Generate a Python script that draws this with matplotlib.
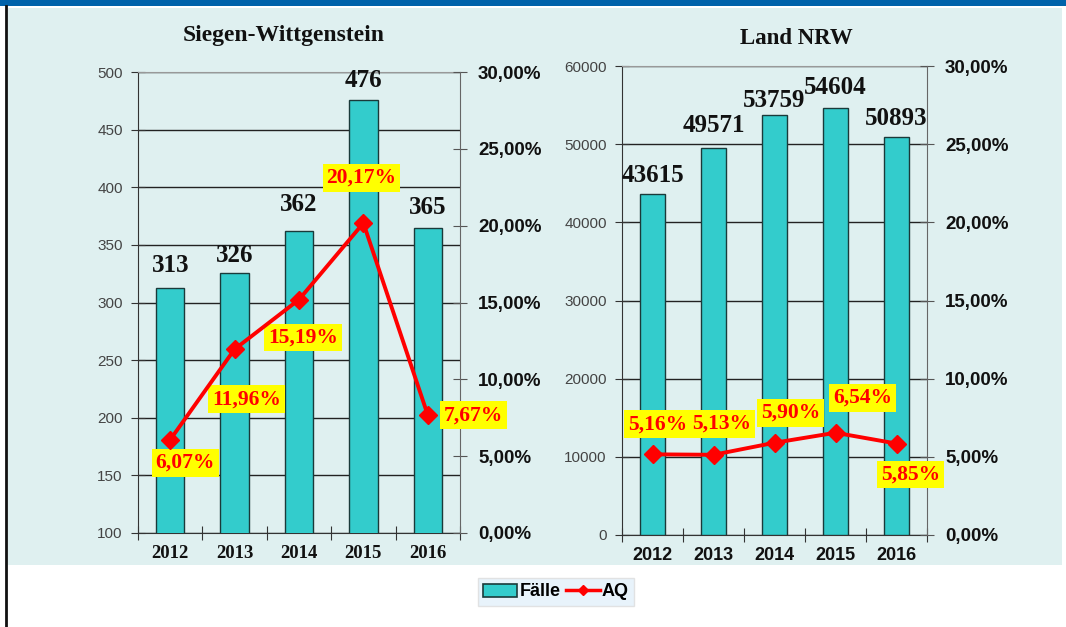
"""Fälle und AQ 2012-2016: Siegen-Wittgenstein und Land NRW."""

import matplotlib

matplotlib.use("Agg")
import matplotlib.pyplot as plt
from matplotlib.lines import Line2D
from matplotlib.patches import Patch, Rectangle
from matplotlib.ticker import FuncFormatter

years = ["2012", "2013", "2014", "2015", "2016"]

sw_faelle = [313, 326, 362, 476, 365]
sw_aq = [6.07, 11.96, 15.19, 20.17, 7.67]

nrw_faelle = [43615, 49571, 53759, 54604, 50893]
nrw_aq = [5.16, 5.13, 5.90, 6.54, 5.85]

# Lage der Beschriftungen relativ zum Punkt bzw. Balken (Pixel)
sw_aq_off = [(15, -23), (12, -50), (4, -38), (-2, 45), (46, 0)]
nrw_aq_off = [(5, 30), (8, 31), (16, 30), (27, 35), (14, -31)]
sw_bar_off = [11, 6, 15, 8, 9]
nrw_bar_off = [7, 11, 3, 9, 7]

BAR = "#33cccc"
RED = "#ff0000"
SERIF = "Liberation Serif"
SANS = "Liberation Sans"


def pct(v, _pos):
    return f"{v:.2f}%".replace(".", ",")


def panel(fig, rect, faelle, aq, ylim, yticks, aq_off, bar_off, year_font, year_size, bar_w):
    ax = fig.add_axes(rect)
    ax.patch.set_alpha(0)
    x = range(len(years))
    ax.bar(x, faelle, width=bar_w, color=BAR, edgecolor="#1a3a3a", linewidth=1.0, zorder=3)
    for i, v in enumerate(faelle):
        ax.annotate(str(v), (i, v), xytext=(0, bar_off[i]), textcoords="offset pixels",
                    ha="center", va="bottom", fontsize=18, fontweight="bold",
                    family=SERIF, color="#111111", zorder=5)
    ax.set_xlim(-0.5, len(years) - 0.5)
    ax.set_ylim(*ylim)
    ax.set_yticks(yticks)
    ax.yaxis.grid(True, color="#222222", linewidth=1.0)
    ax.set_axisbelow(True)
    ax.set_xticks([i + 0.5 for i in range(-1, len(years))])
    ax.set_xticklabels([])
    ax.set_xticks(list(x), years, minor=True)
    ax.tick_params(axis="x", which="major", direction="inout", length=10, color="#333333")
    ax.tick_params(axis="x", which="minor", length=0, pad=9)
    for lab in ax.get_xticklabels(minor=True):
        lab.set_fontsize(year_size)
        lab.set_fontweight("bold")
        lab.set_family(year_font)
        lab.set_color("#111111")
    ax.tick_params(axis="y", direction="inout", length=10, pad=6, labelsize=11,
                   labelcolor="#444444", color="#333333")
    for lab in ax.get_yticklabels():
        lab.set_family(SANS)
    ax.spines["top"].set_color("#999999")
    ax.spines["left"].set_color("#333333")
    ax.spines["bottom"].set_color("#333333")
    ax.spines["right"].set_visible(False)

    ax2 = ax.twinx()
    ax2.set_ylim(0, 30)
    ax2.set_yticks(range(0, 31, 5))
    ax2.yaxis.set_major_formatter(FuncFormatter(pct))
    ax2.tick_params(axis="y", direction="inout", length=10, pad=8, labelsize=13.5,
                    color="#555555")
    for lab in ax2.get_yticklabels():
        lab.set_family(SANS)
        lab.set_fontweight("bold")
        lab.set_color("#111111")
    for s in ["top", "left", "bottom"]:
        ax2.spines[s].set_visible(False)
    ax2.spines["right"].set_color("#666666")
    ax2.plot(list(x), aq, color=RED, linewidth=2.8, marker="D", markersize=9, zorder=4)
    for i, v in enumerate(aq):
        ax2.annotate(pct(v, None), (i, v), xytext=aq_off[i], textcoords="offset pixels",
                     ha="center", va="center", fontsize=15.5, fontweight="bold",
                     family=SERIF, color=RED,
                     bbox=dict(boxstyle="square,pad=0.18", fc="#ffff00", ec="none"))
    return ax


def main():
    fig = plt.figure(figsize=(10.66, 6.27), dpi=100)
    fig.patch.set_facecolor("white")

    # Hintergrund, blauer Balken oben, Rand links
    fig.add_artist(Rectangle((8 / 1066, 1 - 565 / 627), 1054 / 1066, 557 / 627,
                             transform=fig.transFigure, fc="#dff0f0", ec="none", zorder=0))
    fig.add_artist(Rectangle((0, 1 - 6 / 627), 1, 6 / 627, transform=fig.transFigure,
                             fc="#0062aa", ec="none", zorder=0))
    fig.add_artist(Line2D([6 / 1066, 6 / 1066], [0, 1 - 6 / 627], transform=fig.transFigure,
                          color="#111111", linewidth=2))

    panel(fig, [138 / 1066, 1 - 533 / 627, 322 / 1066, 461 / 627], sw_faelle, sw_aq,
          (100, 500), range(100, 501, 50), sw_aq_off, sw_bar_off, SERIF, 13.5, 0.44)
    panel(fig, [622 / 1066, 1 - 535 / 627, 305 / 1066, 469 / 627], nrw_faelle, nrw_aq,
          (0, 60000), range(0, 60001, 10000), nrw_aq_off, nrw_bar_off, SANS, 13, 0.41)

    fig.text(284 / 1066, 1 - 35 / 627, "Siegen-Wittgenstein", ha="center", va="center",
             fontsize=17, fontweight="bold", family=SERIF, color="#111111")
    fig.text(796 / 1066, 1 - 39 / 627, "Land NRW", ha="center", va="center",
             fontsize=16.5, fontweight="bold", family=SERIF, color="#111111")

    handles = [Patch(facecolor=BAR, edgecolor="#1a3a3a", linewidth=1.2),
               Line2D([], [], color=RED, linewidth=2.5, marker="D", markersize=5)]
    leg = fig.legend(handles, ["Fälle", "AQ"], loc="center", ncol=2,
                     bbox_to_anchor=(556 / 1066, 1 - 592 / 627), frameon=True,
                     handlelength=1.9, handletextpad=0.1, columnspacing=0.3,
                     borderpad=0.3, fancybox=False,
                     prop={"family": SANS, "weight": "bold", "size": 13})
    leg.get_frame().set_facecolor("#e3f1fb")
    leg.get_frame().set_edgecolor("#dddddd")

    fig.savefig("out.png", dpi=100)
    plt.close(fig)


if __name__ == "__main__":
    main()
